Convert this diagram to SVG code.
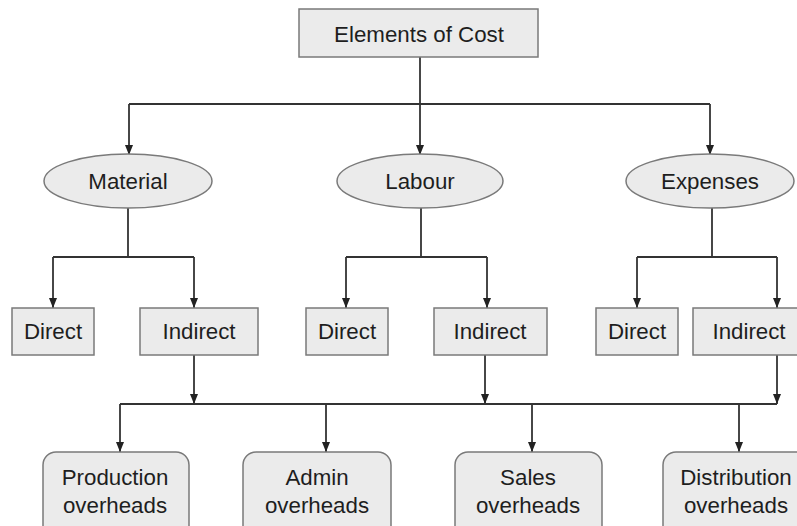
<svg xmlns="http://www.w3.org/2000/svg" width="797" height="526" viewBox="0 0 797 526">
  <style>
    .box { fill: #ebebeb; stroke: #7a7a7a; stroke-width: 1.5; }
    .lbl { font-family: "Liberation Sans", Arial, sans-serif; font-size: 22.3px; fill: #1e1e1e; text-anchor: middle; }
    .wire { fill: none; stroke: #333; stroke-width: 1.8; }
    .arr { marker-end: url(#head); }
  </style>
  <defs>
    <marker id="head" markerUnits="userSpaceOnUse" markerWidth="10" markerHeight="10" viewBox="0 0 10 10" refX="10" refY="5" orient="auto">
      <path d="M0,1 L10,5 L0,9 Z" fill="#222"/>
    </marker>
  </defs>
  <rect width="797" height="526" fill="#ffffff"/>

  <!-- connectors -->
  <g id="connectors">
    <path class="wire arr" d="M420,57 V155"/>
    <path class="wire" d="M129,104 H710"/>
    <path class="wire arr" d="M129,104 V155"/>
    <path class="wire arr" d="M710,104 V155"/>

    <path class="wire" d="M128,208 V257 M53,257 H194"/>
    <path class="wire arr" d="M53,257 V308"/>
    <path class="wire arr" d="M194,257 V308"/>

    <path class="wire" d="M421,208 V257 M346,257 H487"/>
    <path class="wire arr" d="M346,257 V308"/>
    <path class="wire arr" d="M487,257 V308"/>

    <path class="wire" d="M712,208 V257 M637,257 H777"/>
    <path class="wire arr" d="M637,257 V308"/>
    <path class="wire arr" d="M777,257 V308"/>

    <path class="wire arr" d="M194,355 V404"/>
    <path class="wire arr" d="M485,355 V404"/>
    <path class="wire arr" d="M777,355 V404"/>

    <path class="wire" d="M120,404 H777"/>
    <path class="wire arr" d="M120,404 V452"/>
    <path class="wire arr" d="M326,404 V452"/>
    <path class="wire arr" d="M532,404 V452"/>
    <path class="wire arr" d="M739,404 V452"/>
  </g>

  <g id="elements-of-cost">
    <rect class="box" x="299" y="9" width="239" height="48"/>
    <text class="lbl" x="419" y="42">Elements of Cost</text>
  </g>

  <g id="material">
    <ellipse class="box" cx="128" cy="181" rx="84" ry="27"/>
    <text class="lbl" x="128" y="189">Material</text>
  </g>
  <g id="labour">
    <ellipse class="box" cx="420" cy="181" rx="83" ry="27"/>
    <text class="lbl" x="420" y="189">Labour</text>
  </g>
  <g id="expenses">
    <ellipse class="box" cx="710" cy="181" rx="84" ry="27"/>
    <text class="lbl" x="710" y="189">Expenses</text>
  </g>

  <g id="material-direct">
    <rect class="box" x="12" y="308" width="82" height="47"/>
    <text class="lbl" x="53" y="339">Direct</text>
  </g>
  <g id="material-indirect">
    <rect class="box" x="140" y="308" width="118" height="47"/>
    <text class="lbl" x="199" y="339">Indirect</text>
  </g>
  <g id="labour-direct">
    <rect class="box" x="306" y="308" width="82" height="47"/>
    <text class="lbl" x="347" y="339">Direct</text>
  </g>
  <g id="labour-indirect">
    <rect class="box" x="434" y="308" width="113" height="47"/>
    <text class="lbl" x="490" y="339">Indirect</text>
  </g>
  <g id="expenses-direct">
    <rect class="box" x="596" y="308" width="82" height="47"/>
    <text class="lbl" x="637" y="339">Direct</text>
  </g>
  <g id="expenses-indirect">
    <rect class="box" x="693" y="308" width="113" height="47"/>
    <text class="lbl" x="749" y="339">Indirect</text>
  </g>

  <g id="production-overheads">
    <rect class="box" x="43" y="452" width="146" height="90" rx="13"/>
    <text class="lbl" x="115" y="485">Production</text>
    <text class="lbl" x="115" y="513">overheads</text>
  </g>
  <g id="admin-overheads">
    <rect class="box" x="243" y="452" width="148" height="90" rx="13"/>
    <text class="lbl" x="317" y="485">Admin</text>
    <text class="lbl" x="317" y="513">overheads</text>
  </g>
  <g id="sales-overheads">
    <rect class="box" x="455" y="452" width="147" height="90" rx="13"/>
    <text class="lbl" x="528" y="485">Sales</text>
    <text class="lbl" x="528" y="513">overheads</text>
  </g>
  <g id="distribution-overheads">
    <rect class="box" x="663" y="452" width="147" height="90" rx="13"/>
    <text class="lbl" x="736" y="485">Distribution</text>
    <text class="lbl" x="736" y="513">overheads</text>
  </g>
</svg>
